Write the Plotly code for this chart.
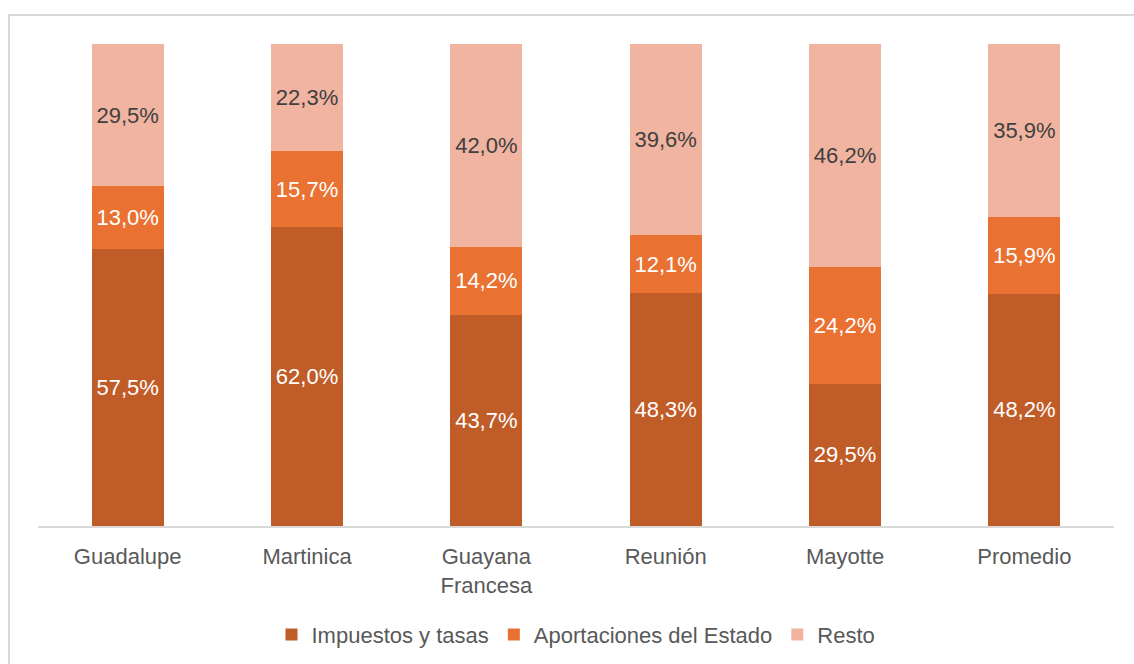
import plotly.graph_objects as go

categories = ["Guadalupe", "Martinica", "Guayana<br>Francesa", "Reunión", "Mayotte", "Promedio"]
impuestos = [57.5, 62.0, 43.7, 48.3, 29.5, 48.2]
aportaciones = [13.0, 15.7, 14.2, 12.1, 24.2, 15.9]
resto = [29.5, 22.3, 42.0, 39.6, 46.2, 35.9]

FONT = "Liberation Sans"


def pct(v):
    return f"{v:.1f}%".replace(".", ",")


series = [
    ("Impuestos y tasas", impuestos, "#C05C28", "#FFFFFF"),
    ("Aportaciones del Estado", aportaciones, "#E97132", "#FFFFFF"),
    ("Resto", resto, "#F0B4A0", "#404040"),
]

fig = go.Figure()
for name, vals, color, tcolor in series:
    fig.add_trace(go.Bar(
        name=name,
        x=categories,
        y=vals,
        marker=dict(color=color, line=dict(width=0)),
        text=[pct(v) for v in vals],
        textposition="inside",
        insidetextanchor="middle",
        textangle=0,
        constraintext="none",
        textfont=dict(family=FONT, size=22, color=tcolor),
        hoverinfo="skip",
    ))

fig.update_layout(
    barmode="stack",
    barnorm="percent",
    bargap=0.6,
    width=1134,
    height=664,
    margin=dict(l=38, r=20, t=44, b=138, autoexpand=False),
    paper_bgcolor="white",
    plot_bgcolor="white",
    font=dict(family=FONT, color="#595959", size=22),
    showlegend=True,
    legend=dict(
        orientation="h",
        x=0.5, xanchor="center",
        y=-0.182, yanchor="top",
        font=dict(family=FONT, size=22, color="#595959"),
        itemsizing="constant",
        traceorder="normal",
        itemwidth=30,
    ),
    xaxis=dict(
        showline=True, linecolor="#D9D9D9", linewidth=2,
        ticks="", showgrid=False, zeroline=False,
        automargin=False,
        ticklabelstandoff=10,
        tickfont=dict(family=FONT, size=22, color="#595959"),
    ),
    yaxis=dict(
        range=[0, 100], visible=False, showgrid=False, zeroline=False,
    ),
    shapes=[dict(
        type="rect", xref="paper", yref="paper",
        x0=-0.0270, x1=1.05, y0=-0.40, y1=1.0601,
        line=dict(color="#D9D9D9", width=2), fillcolor="rgba(0,0,0,0)",
        layer="below",
    )],
)

fig.write_html("out.html")
